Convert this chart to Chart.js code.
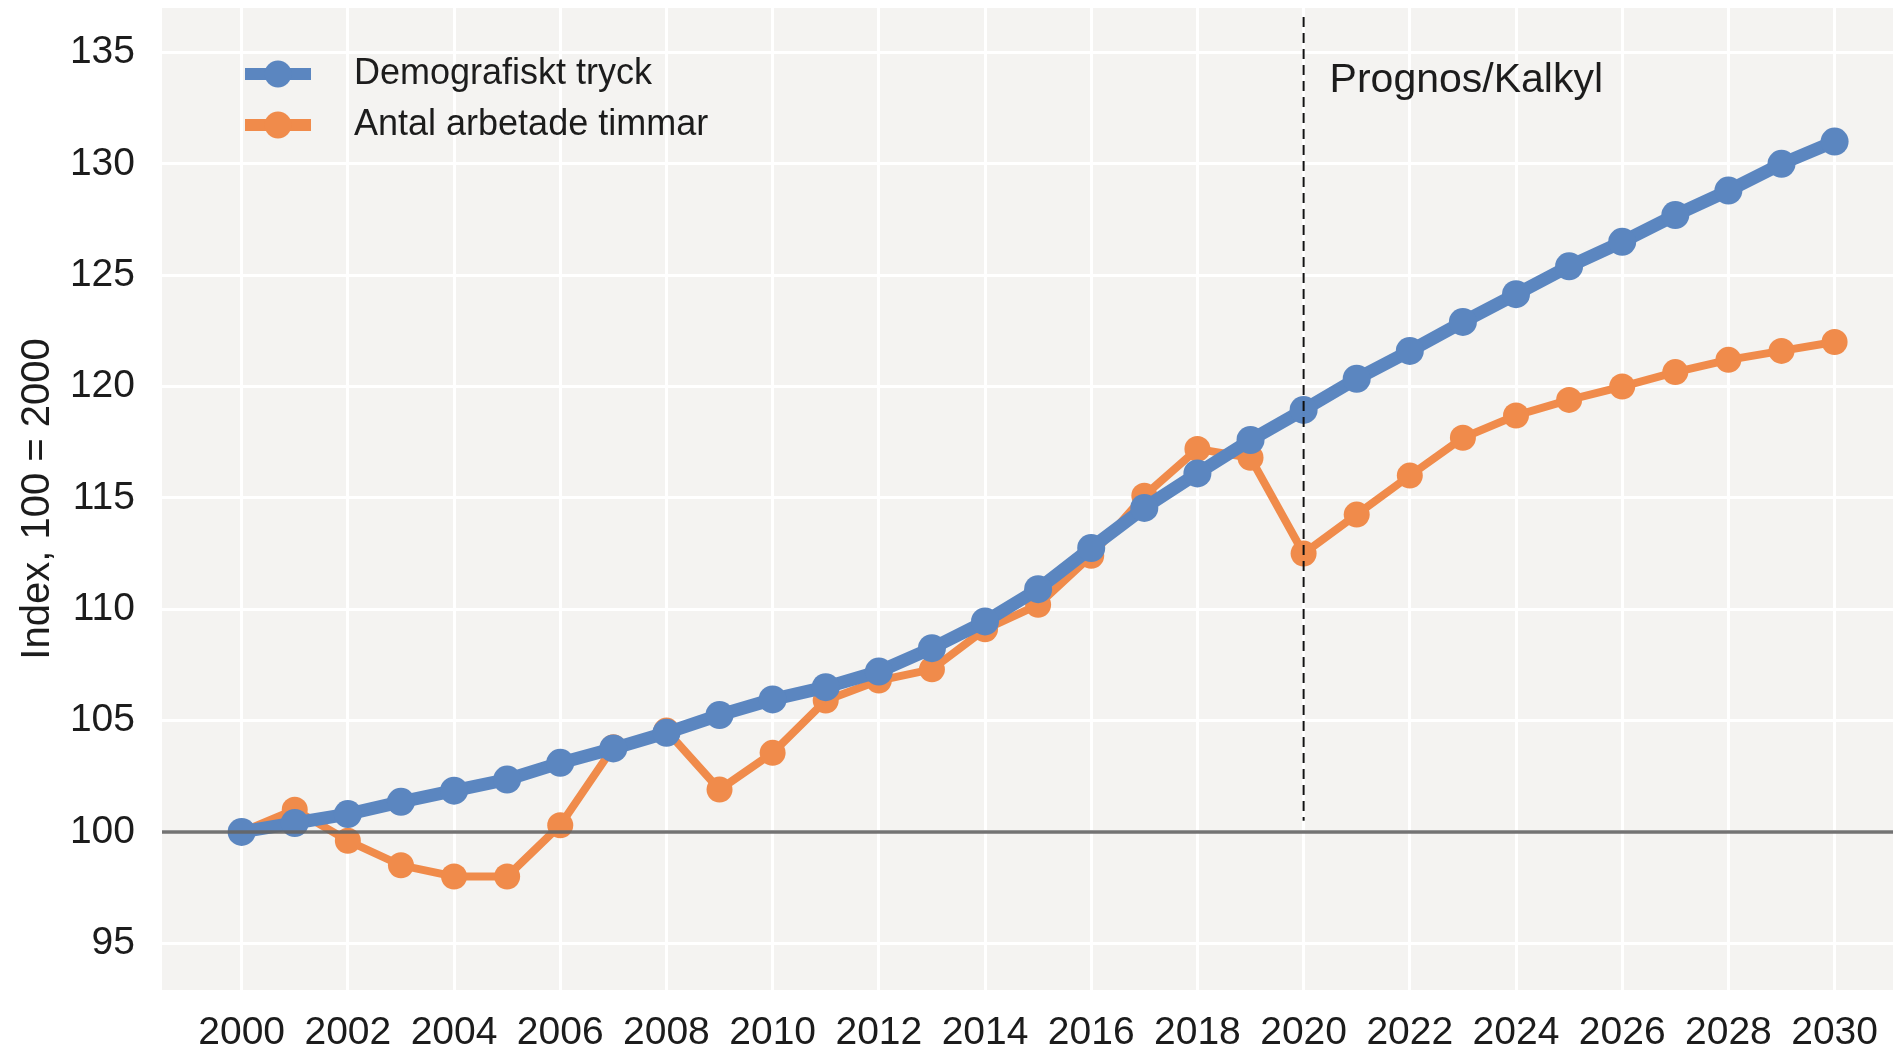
<!DOCTYPE html>
<html>
<head>
<meta charset="utf-8">
<script src="https://cdn.jsdelivr.net/npm/chart.js@4.4.1/dist/chart.umd.min.js"></script>
<style>
    html, body { margin: 0; padding: 0; background: #fff; }
</style>
</head>
<body>
<canvas id="index-chart" width="1893" height="1049"></canvas>
<script>
// Data
const years = [2000, 2001, 2002, 2003, 2004, 2005, 2006, 2007, 2008, 2009,
    2010, 2011, 2012, 2013, 2014, 2015, 2016, 2017, 2018, 2019,
    2020, 2021, 2022, 2023, 2024, 2025, 2026, 2027, 2028, 2029, 2030];
const demografisktTryck = [100.0, 100.4, 100.8, 101.35, 101.85, 102.35, 103.1, 103.75, 104.45, 105.25,
    105.95, 106.5, 107.2, 108.25, 109.45, 110.9, 112.75, 114.55, 116.1, 117.6,
    118.95, 120.35, 121.6, 122.9, 124.15, 125.4, 126.5, 127.7, 128.8, 130.0, 131.0];
const arbetadeTimmar = [100.0, 101.0, 99.6, 98.5, 98.0, 98.0, 100.3, 103.8, 104.55, 101.9,
    103.55, 105.9, 106.8, 107.3, 109.1, 110.2, 112.4, 115.1, 117.2, 116.8,
    112.5, 114.25, 116.0, 117.7, 118.7, 119.4, 120.0, 120.65, 121.2, 121.6, 122.0];
const seriesLabels = ['Demografiskt tryck', 'Antal arbetade timmar'];
const xTicks = [2000, 2002, 2004, 2006, 2008, 2010, 2012, 2014, 2016, 2018, 2020, 2022, 2024, 2026, 2028, 2030];
const yTicks = [95, 100, 105, 110, 115, 120, 125, 130, 135];
const baseValue = 100;
const forecastYear = 2020;
const forecastLabel = 'Prognos/Kalkyl';
const yTitle = 'Index, 100 = 2000';

const BLUE = '#5b86c0';
const ORANGE = '#f08b4b';
const TEXT = '#1c1c1c';
const FONT = "'Liberation Sans', Arial, sans-serif";

/**
 * Background, base line, forecast marker, legend and label
 */
const decorPlugin = {
    id: 'decor',
    beforeDraw(chart) {
        const {ctx, chartArea} = chart;
        ctx.save();
        ctx.fillStyle = '#f4f3f1';
        ctx.fillRect(chartArea.left, chartArea.top, chartArea.right - chartArea.left, chartArea.bottom - chartArea.top);
        ctx.restore();
    },
    afterDatasetsDraw(chart) {
        const {ctx, chartArea, scales} = chart;
        ctx.save();

        // index base line
        const yb = scales.y.getPixelForValue(baseValue);
        ctx.strokeStyle = 'rgba(100, 100, 100, 0.9)';
        ctx.lineWidth = 3.5;
        ctx.beginPath();
        ctx.moveTo(chartArea.left, yb);
        ctx.lineTo(chartArea.right, yb);
        ctx.stroke();

        // forecast divider
        const x = scales.x.getPixelForValue(forecastYear);
        ctx.strokeStyle = '#111';
        ctx.lineWidth = 2;
        ctx.setLineDash([10, 6]);
        ctx.beginPath();
        ctx.moveTo(x, scales.y.getPixelForValue(136.6));
        ctx.lineTo(x, scales.y.getPixelForValue(100.5));
        ctx.stroke();
        ctx.restore();
    },
    afterDraw(chart) {
        const {ctx, chartArea, scales} = chart;
        ctx.save();

        // legend, top left inside the plot
        chart.data.datasets.forEach((ds, i) => {
            const y = chartArea.top + 66 + i * 51;
            const x0 = chartArea.left + 83;
            ctx.strokeStyle = ds.borderColor;
            ctx.lineWidth = 12;
            ctx.beginPath();
            ctx.moveTo(x0, y);
            ctx.lineTo(x0 + 66, y);
            ctx.stroke();
            ctx.fillStyle = ds.borderColor;
            ctx.beginPath();
            ctx.arc(x0 + 33, y, 13.5, 0, Math.PI * 2);
            ctx.fill();
            ctx.fillStyle = TEXT;
            ctx.font = '36px ' + FONT;
            ctx.textBaseline = 'middle';
            ctx.fillText(ds.label, x0 + 109, y);
        });

        // forecast label
        ctx.font = '41px ' + FONT;
        ctx.textBaseline = 'middle';
        ctx.fillStyle = TEXT;
        ctx.fillText(forecastLabel, scales.x.getPixelForValue(forecastYear) + 26, chartArea.top + 73);
        ctx.restore();
    }
};

const chart = new Chart(document.getElementById('index-chart'), {
    type: 'line',
    data: {
        labels: years,
        datasets: [{
            label: seriesLabels[0],
            data: years.map((yr, i) => ({x: yr, y: demografisktTryck[i]})),
            borderColor: BLUE,
            backgroundColor: BLUE,
            borderWidth: 13,
            pointRadius: 14,
            pointBorderWidth: 0,
            tension: 0
        }, {
            label: seriesLabels[1],
            data: years.map((yr, i) => ({x: yr, y: arbetadeTimmar[i]})),
            borderColor: ORANGE,
            backgroundColor: ORANGE,
            borderWidth: 8,
            pointRadius: 13,
            pointBorderWidth: 0,
            tension: 0
        }]
    },
    options: {
        responsive: false,
        animation: false,
        layout: { autoPadding: false, padding: { top: 8, right: 0, left: 0, bottom: 0 } },
        plugins: {
            legend: { display: false },
            tooltip: { enabled: false }
        },
        scales: {
            x: {
                type: 'linear',
                min: 1998.5,
                max: 2031.1,
                afterBuildTicks: s => { s.ticks = xTicks.map(v => ({value: v})); },
                afterFit: s => {
                    s.height = 59;
                    s.paddingLeft = 0;
                    s.paddingRight = 0;
                },
                border: { display: false },
                grid: { color: '#ffffff', lineWidth: 3, drawTicks: false },
                ticks: {
                    color: TEXT,
                    font: { family: FONT, size: 39 },
                    padding: 20,
                    maxRotation: 0,
                    autoSkip: false,
                    callback: v => String(v)
                }
            },
            y: {
                min: 92.9,
                max: 137,
                afterBuildTicks: s => { s.ticks = yTicks.map(v => ({value: v})); },
                afterFit: s => {
                    s.width = 162;
                    s.paddingTop = 0;
                    s.paddingBottom = 0;
                },
                border: { display: false },
                grid: { color: '#ffffff', lineWidth: 3, drawTicks: false },
                ticks: {
                    color: TEXT,
                    font: { family: FONT, size: 39 },
                    padding: 27,
                    callback: v => String(v)
                },
                title: {
                    display: true,
                    text: yTitle,
                    color: TEXT,
                    font: { family: FONT, size: 40 },
                    padding: { top: 14, bottom: 0 }
                }
            }
        }
    },
    plugins: [decorPlugin]
});
</script>
</body>
</html>
